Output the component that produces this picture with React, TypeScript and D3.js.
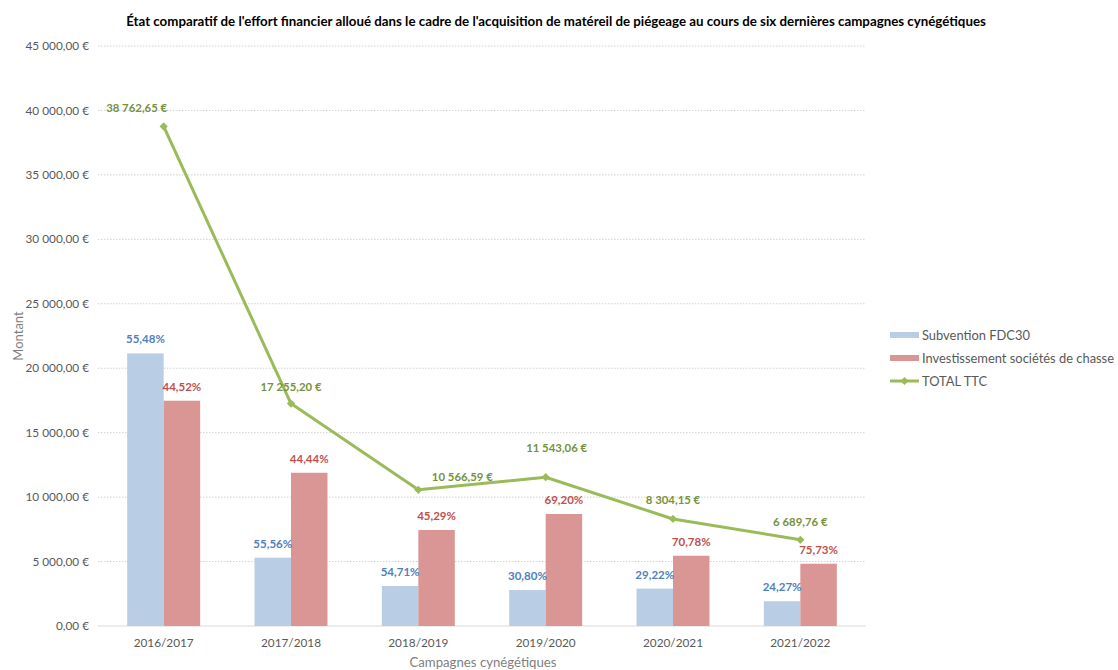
import React from 'react'
import * as d3 from "d3";

// campaigns on the x axis
const categories = ["2016/2017", "2017/2018", "2018/2019", "2019/2020", "2020/2021", "2021/2022"];

// bar values (€)
const subvention = [21150, 5300, 3100, 2790, 2900, 1920];
const investissement = [17480, 11890, 7450, 8690, 5450, 4830];

// line values (from the data labels)
const totals = [38762.65, 17255.20, 10566.59, 11543.06, 8304.15, 6689.76];

// percentage labels as printed on the chart
const subventionPct = ["55,48%", "55,56%", "54,71%", "30,80%", "29,22%", "24,27%"];
const investPct = ["44,52%", "44,44%", "45,29%", "69,20%", "70,78%", "75,73%"];

const yTicks = [0, 5000, 10000, 15000, 20000, 25000, 30000, 35000, 40000, 45000];

const seriesNames = ["Subvention FDC30", "Investissement sociétés de chasse", "TOTAL TTC"];

// hand-placed offsets of the total labels, like in the original sheet
const totalLabelNudge = [[-27, -18], [0, -17], [44, -13], [11, -29], [0, -19], [0, -18]];

const BLUE = "#b9cde5";
const RED = "#d99694";
const GREEN = "#9bbb59";
const GREY = "#595959";
const FONT = "Lato, 'Open Sans', sans-serif";

const fr = d3.formatLocale({ decimal: ",", thousands: "\u00a0", grouping: [3], currency: ["", "\u00a0€"] });
const euro = fr.format("$,.2f");

export default function App() {
    const width = 1118;
    const height = 670;

    const x = d3.scaleBand()
        .domain(categories)
        .range([100, 864])
        .paddingInner(0.427)
        .paddingOuter(0.2135);

    const x1 = d3.scaleBand()
        .domain(["s", "i"])
        .range([0, x.bandwidth()]);

    const y = d3.scaleLinear()
        .domain([0, 45000])
        .range([626, 46]);

    const cx = (c) => x(c) + x.bandwidth() / 2;

    const line = d3.line()
        .x((d, i) => cx(categories[i]))
        .y(d => y(d));

    // square turned 45° -> diamond like Excel's marker
    const marker = d3.symbol(d3.symbolSquare, 34)();

    return (
        <svg width={width} height={height} style={{ position: "absolute", left: 0, top: 0, background: "#fff" }}
            fontFamily={FONT}>
            {/* title */}
            <text x={556} y={26} textAnchor="middle" fontSize={13.3} fontWeight="bold" fill="#000">
                État comparatif de l'effort financier alloué dans le cadre de l'acquisition de matéreil de piégeage au cours de six dernières campagnes cynégétiques
            </text>

            {/* gridlines + y ticks */}
            {yTicks.map(t => (
                <g key={t}>
                    {t > 0 && <line x1={98} x2={866} y1={y(t)} y2={y(t)} stroke="#d0d0d0" strokeDasharray="1.5,1.5" />}
                    <text x={89} y={y(t)} dy="0.35em" textAnchor="end" fontSize={11.8} fill={GREY}>{euro(t)}</text>
                </g>
            ))}
            <line x1={98} x2={866} y1={y(0)} y2={y(0)} stroke="#d9d9d9" strokeWidth={1} />

            {/* bars */}
            {categories.map((c, i) => (
                <g key={c}>
                    <rect x={x(c) + x1("s")} y={y(subvention[i])} width={x1.bandwidth()} height={y(0) - y(subvention[i])} fill={BLUE} />
                    <rect x={x(c) + x1("i")} y={y(investissement[i])} width={x1.bandwidth()} height={y(0) - y(investissement[i])} fill={RED} />
                </g>
            ))}

            {/* total line */}
            <path d={line(totals)} fill="none" stroke={GREEN} strokeWidth={3} strokeLinejoin="round" />
            {totals.map((t, i) => (
                <path key={i} d={marker} transform={`translate(${cx(categories[i])},${y(t)}) rotate(45)`} fill={GREEN} />
            ))}

            {/* bar labels */}
            {categories.map((c, i) => (
                <g key={c} fontSize={11.5} fontWeight="bold" textAnchor="middle">
                    <text x={x(c) + x1("s") + x1.bandwidth() / 2} y={y(subvention[i]) - 10} fill="#4f81bd">{subventionPct[i]}</text>
                    <text x={x(c) + x1("i") + x1.bandwidth() / 2} y={y(investissement[i]) - 10} fill="#c0504d">{investPct[i]}</text>
                </g>
            ))}

            {/* total labels */}
            {totals.map((t, i) => (
                <text key={i} x={cx(categories[i]) + totalLabelNudge[i][0]} y={y(t) + totalLabelNudge[i][1]} dy="0.35em"
                    textAnchor="middle" fontSize={11.4} fontWeight="bold" fill="#76923c">{euro(t)}</text>
            ))}

            {/* x tick labels */}
            {categories.map(c => (
                <text key={c} x={cx(c)} y={643} dy="0.35em" textAnchor="middle" fontSize={11.8} fill={GREY}>{c}</text>
            ))}

            {/* axis titles */}
            <text x={483} y={662} dy="0.35em" textAnchor="middle" fontSize={13.2} fill="#7f7f7f">Campagnes cynégétiques</text>
            <text transform="translate(18,336) rotate(-90)" dy="0.35em" textAnchor="middle" fontSize={13} fill="#7f7f7f">Montant</text>

            {/* legend */}
            <g fontSize={12.9} fill={GREY}>
                <rect x={890} y={332} width={29} height={6} fill={BLUE} />
                <text x={922} y={335} dy="0.35em">{seriesNames[0]}</text>
                <rect x={890} y={355} width={29} height={6} fill={RED} />
                <text x={922} y={358} dy="0.35em">{seriesNames[1]}</text>
                <line x1={890} x2={919} y1={381} y2={381} stroke={GREEN} strokeWidth={3} />
                <path d={marker} transform="translate(904.5,381) rotate(45)" fill={GREEN} />
                <text x={922} y={381} dy="0.35em">{seriesNames[2]}</text>
            </g>
        </svg>
    )
}
